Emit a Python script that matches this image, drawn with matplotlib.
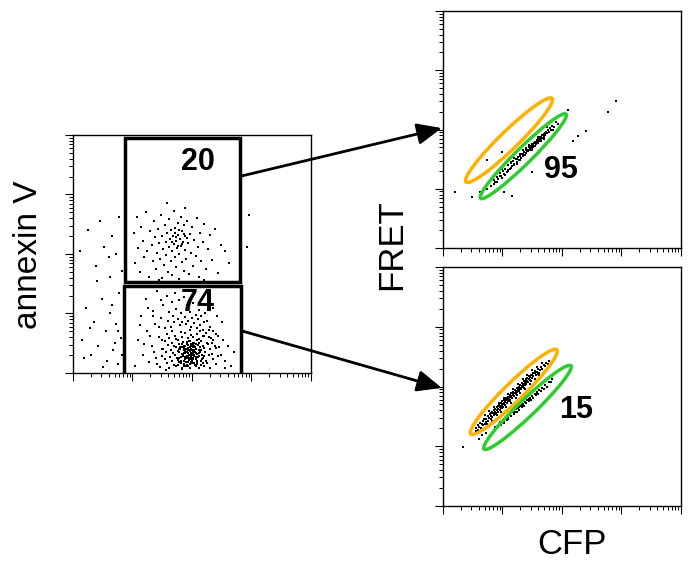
#import libraries
import matplotlib
matplotlib.use("Agg")
import matplotlib.pyplot as plt
from matplotlib.patches import Rectangle, Ellipse, ConnectionPatch
import numpy as np

plt.rcParams['font.family'] = ['Liberation Sans', 'DejaVu Sans']

#DATA (all positions in log10 decades)
#left plot: annexin V gating
upper_gate = (0.87, 1.53, 2.81, 3.95)   # x0, y0, x1, y1
lower_gate = (0.86, -0.30, 2.82, 1.47)
upper_pct = "20"
lower_pct = "74"

upper_cells = [(1.02,2.35),(1.05,1.85),(1.08,2.62),(1.10,2.10),(1.13,1.70),(1.15,2.45),(1.18,2.22),(1.20,1.95),(1.22,2.70),(1.25,2.05),
    (1.27,1.62),(1.30,2.38),(1.32,2.15),(1.34,1.88),(1.36,2.55),(1.38,2.28),(1.40,1.75),(1.41,2.02),(1.43,2.42),(1.45,2.18),
    (1.46,1.92),(1.48,2.65),(1.49,1.60),(1.50,2.30),(1.52,2.08),(1.53,1.82),(1.55,2.48),(1.56,2.20),(1.57,1.98),(1.58,2.36),
    (1.60,1.70),(1.61,2.12),(1.62,2.58),(1.63,2.25),(1.64,1.88),(1.65,2.40),(1.66,2.05),(1.67,1.65),(1.68,2.30),(1.69,2.16),
    (1.70,2.72),(1.71,1.95),(1.72,2.44),(1.73,2.22),(1.74,1.78),(1.75,2.10),(1.76,2.52),(1.77,2.32),(1.78,2.00),(1.79,1.58),
    (1.80,2.26),(1.81,2.62),(1.82,2.14),(1.83,1.86),(1.84,2.38),(1.85,2.20),(1.86,1.72),(1.87,2.48),(1.88,2.06),(1.89,2.30),
    (1.90,1.92),(1.92,2.56),(1.93,2.18),(1.95,1.66),(1.96,2.34),(1.98,2.02),(2.00,2.45),(2.02,1.80),(2.04,2.24),(2.06,1.96),
    (2.08,2.60),(2.10,2.12),(2.12,1.62),(2.14,2.36),(2.16,1.88),(2.18,2.20),(2.21,2.50),(2.24,1.74),(2.27,2.08),(2.30,2.32),
    (2.34,1.90),(2.38,2.42),(2.43,1.68),(2.48,2.15),(2.55,2.05),(2.62,1.85),(1.58,2.85),(1.88,2.78),(1.45,1.56),(2.20,1.57),
    (1.74,2.28),(1.79,2.41),(1.84,2.17),(1.71,2.35),(1.92,2.27),(1.66,2.21),(1.87,2.33),(1.77,2.13),
    (2.96,2.66),(2.92,2.12)]

outside_cells = [(0.12,2.05),(0.25,2.40),(0.38,1.80),(0.45,2.55),(0.52,2.12),(0.60,1.95),(0.66,2.30),(0.72,2.00),(0.78,2.62),(0.82,1.72),
    (0.15,0.55),(0.22,1.10),(0.30,0.30),(0.35,0.85),(0.42,0.45),(0.48,1.25),(0.55,0.70),(0.58,0.20),(0.63,1.00),(0.68,0.38),
    (0.72,0.82),(0.75,0.15),(0.78,1.35),(0.80,0.58),(0.83,0.30),(0.40,1.55),(0.28,0.75),(0.62,1.62),(0.70,0.50),(0.85,0.95),
    (0.50,0.10),(0.18,0.25),(0.66,1.15),(0.76,0.70)]

lower_cells = [(1.62,0.09),(1.74,0.12),(1.83,0.07),(1.90,0.11),(1.97,0.08),(2.05,0.13),(2.12,0.09),(2.20,0.12),(2.31,0.08),
    (1.58,0.17),(1.69,0.14),(1.79,0.19),(1.86,0.15),(1.93,0.18),(2.00,0.16),(2.08,0.19),(2.16,0.14),(2.26,0.17),(2.40,0.15),
    (1.55,0.23),(1.66,0.21),(1.75,0.25),(1.82,0.20),(1.88,0.24),(1.95,0.22),(2.02,0.26),(2.09,0.21),(2.17,0.24),(2.24,0.20),(2.35,0.23),
    (1.50,0.29),(1.63,0.27),(1.71,0.30),(1.78,0.26),(1.85,0.31),(1.91,0.28),(1.98,0.27),(2.04,0.30),(2.11,0.29),(2.19,0.26),(2.28,0.31),(2.44,0.28),
    (1.57,0.35),(1.68,0.33),(1.76,0.37),(1.83,0.32),(1.89,0.36),(1.94,0.34),(2.00,0.38),(2.06,0.33),(2.14,0.36),(2.22,0.35),(2.33,0.32),
    (1.52,0.41),(1.64,0.39),(1.73,0.43),(1.80,0.40),(1.87,0.42),(1.93,0.38),(1.99,0.41),(2.05,0.44),(2.12,0.39),(2.20,0.42),(2.30,0.40),(2.46,0.43),
    (1.60,0.47),(1.70,0.45),(1.79,0.49),(1.86,0.46),(1.92,0.48),(1.98,0.45),(2.03,0.50),(2.10,0.47),(2.18,0.45),(2.27,0.49),(2.38,0.46),
    (1.55,0.53),(1.67,0.51),(1.77,0.55),(1.85,0.52),(1.95,0.54),(2.02,0.51),(2.08,0.56),(2.16,0.53),(2.25,0.51),(2.36,0.55),
    (1.62,0.59),(1.74,0.57),(1.84,0.61),(1.93,0.58),(2.01,0.60),(2.11,0.57),(2.21,0.62),(2.32,0.59),
    (1.58,0.65),(1.72,0.63),(1.88,0.67),(1.99,0.64),(2.09,0.66),(2.19,0.63),(2.41,0.65),
    (1.66,0.71),(1.81,0.69),(1.96,0.73),(2.14,0.70),(2.28,0.72),
    (1.87,0.21),(1.92,0.25),(1.96,0.30),(2.01,0.23),(2.05,0.35),(1.90,0.40),(1.97,0.44),(2.03,0.28),(1.94,0.47),(2.07,0.41),
    (1.89,0.33),(1.99,0.19),(2.02,0.36),(1.91,0.29),(1.96,0.39),(2.06,0.24),(1.86,0.38),(2.00,0.31),(1.93,0.42),(1.98,0.34),
    (1.88,0.27),(2.04,0.46),(1.95,0.26),(2.08,0.32),(1.84,0.44),(1.97,0.15),(2.01,0.43),(1.92,0.35),(2.10,0.27),(1.85,0.29),
    (1.77,0.13),(1.81,0.27),(1.84,0.09),(1.89,0.45),(1.94,0.12),(1.96,0.53),(2.03,0.17),(2.07,0.48),(2.11,0.33),(2.15,0.21),
    (1.79,0.35),(1.83,0.48),(1.87,0.11),(1.91,0.52),(1.95,0.31),(1.99,0.24),(2.01,0.47),(2.06,0.11),(2.13,0.44),(2.17,0.30),
    (1.76,0.22),(1.80,0.44),(1.86,0.33),(1.90,0.18),(1.93,0.29),(1.97,0.37),(2.00,0.20),(2.04,0.39),(2.09,0.15),(2.15,0.38),
    (1.82,0.16),(1.88,0.39),(1.92,0.14),(1.98,0.49),(2.02,0.33),(2.07,0.27),(2.12,0.51),(1.78,0.41),(2.18,0.17),(2.21,0.28),
    (1.05,0.12),(1.10,0.55),(1.15,0.95),(1.18,0.30),(1.22,1.25),(1.25,0.70),(1.28,0.18),(1.32,0.45),(1.35,1.05),(1.38,0.82),
    (1.40,0.25),(1.42,1.38),(1.44,0.60),(1.46,0.10),(1.48,0.92),(1.50,0.40),(1.52,1.15),(1.54,0.75),(1.56,0.05),(1.58,1.30),
    (1.60,0.88),(1.62,1.02),(1.64,0.78),(1.66,1.20),(1.68,0.95),(1.70,0.85),(1.72,1.35),(1.74,1.08),(1.76,0.90),(1.78,1.22),
    (1.80,0.80),(1.82,1.00),(1.84,0.86),(1.86,1.28),(1.88,0.94),(1.90,0.82),(1.92,1.12),(1.94,0.88),(1.96,1.02),(1.98,0.78),
    (2.00,0.92),(2.02,1.18),(2.04,0.84),(2.06,0.98),(2.08,0.76),(2.10,0.90),(2.12,1.06),(2.14,0.80),(2.16,0.95),(2.18,0.72),
    (2.20,0.85),(2.22,1.00),(2.24,0.68),(2.26,0.88),(2.28,0.60),(2.30,0.78),(2.33,0.50),(2.36,0.70),(2.40,0.42),(2.44,0.62),
    (2.48,0.30),(2.52,0.55),(2.56,0.20),(2.60,0.45),(2.65,0.12),(2.70,0.35),(2.50,0.85),(2.42,0.95),(2.55,0.08),(2.35,1.10),
    (1.30,0.62),(1.36,0.35),(1.42,0.15),(1.45,0.78),(1.50,0.55),(1.20,0.48),(1.12,0.80),(1.34,0.95),(1.26,1.10),(1.48,1.22)]

#right plots: FRET vs CFP (annexin V high = top, annexin V low = bottom)
top_pct = "95"
bottom_pct = "15"
# ellipse gates: center x, center y, length, width, angle
top_orange = (1.11, 1.82, 2.02, 0.31, 44.3)
top_green = (1.35, 1.55, 2.02, 0.27, 44.7)
bot_orange = (1.19, 1.91, 2.02, 0.31, 44.3)
bot_green = (1.42, 1.65, 2.02, 0.28, 43.7)

top_cells = [(0.62,0.95),(0.66,0.92),(0.70,1.02),(0.74,0.99),(0.78,1.10),(0.81,1.04),(0.85,1.15),(0.88,1.11),(0.90,1.20),(0.93,1.16),
    (0.95,1.26),(0.98,1.21),(1.01,1.30),(1.03,1.25),(1.05,1.33),(1.07,1.29),(1.10,1.40),(1.12,1.34),(1.14,1.43),(1.16,1.38),
    (1.18,1.47),(1.20,1.42),(1.22,1.50),(1.24,1.46),(1.26,1.54),(1.27,1.49),(1.29,1.55),(1.31,1.52),(1.33,1.59),(1.34,1.55),
    (1.36,1.62),(1.37,1.57),(1.39,1.65),(1.40,1.61),(1.42,1.66),(1.43,1.63),(1.45,1.70),(1.46,1.65),(1.48,1.72),(1.49,1.69),
    (1.50,1.75),(1.51,1.71),(1.53,1.77),(1.54,1.73),(1.55,1.79),(1.56,1.76),(1.58,1.82),(1.59,1.78),(1.60,1.84),(1.61,1.80),
    (1.63,1.87),(1.64,1.83),(1.65,1.88),(1.66,1.85),(1.68,1.91),(1.69,1.87),(1.70,1.92),(1.72,1.90),(1.73,1.95),(1.75,1.94),
    (1.76,1.99),(1.78,1.96),(1.80,2.02),(1.82,1.99),(1.84,2.06),(1.87,2.05),(1.90,2.12),(1.93,2.09),
    (1.47,1.68),(1.52,1.74),(1.57,1.79),(1.62,1.85),(1.67,1.90),(1.41,1.64),(1.35,1.58),(1.44,1.66),(1.58,1.80),(1.63,1.84),
    (0.99,1.18),(1.09,1.31),(1.19,1.40),(1.25,1.51),(0.86,1.08),(1.15,1.45),(1.30,1.58),(1.71,1.94),
    (0.80,1.16),(0.90,1.12),(1.00,1.34),(1.10,1.30),(1.20,1.52),(1.30,1.48),(1.40,1.69),(1.50,1.66),(1.60,1.87),(1.70,1.84),
    (0.95,1.22),(1.15,1.35),(1.35,1.66),(1.55,1.72),(1.75,2.04),(1.25,1.42),(1.45,1.74),(1.65,1.80),(1.05,1.24),(1.85,2.00),
    (0.20,0.95),(0.74,1.49),(1.00,1.62),(2.77,2.29),(2.90,2.48),(2.40,1.98),(2.27,1.89),(2.18,1.81),(2.10,2.33),
    (1.50,1.28),(1.16,0.88),(0.49,0.86),(1.03,0.95)]

bottom_cells = [(0.55,1.25),(0.56,1.31),(0.58,1.36),(0.59,1.28),(0.61,1.33),(0.62,1.39),(0.64,1.30),(0.65,1.37),
    (0.67,1.42),(0.68,1.35),(0.69,1.45),(0.71,1.38),(0.72,1.46),(0.73,1.41),(0.75,1.50),(0.76,1.43),(0.77,1.47),
    (0.79,1.54),(0.80,1.46),(0.81,1.51),(0.82,1.57),(0.83,1.49),(0.84,1.55),(0.85,1.60),(0.86,1.52),
    (0.87,1.58),(0.88,1.63),(0.89,1.55),(0.90,1.60),(0.91,1.66),(0.92,1.58),(0.93,1.63),(0.94,1.69),
    (0.95,1.61),(0.96,1.66),(0.97,1.72),(0.98,1.64),(0.99,1.69),(1.00,1.75),(1.01,1.66),(1.02,1.71),
    (1.03,1.77),(1.04,1.69),(1.05,1.74),(1.06,1.80),(1.07,1.72),(1.08,1.77),(1.09,1.83),(1.10,1.75),
    (1.11,1.80),(1.12,1.86),(1.13,1.78),(1.14,1.83),(1.15,1.89),(1.16,1.81),(1.17,1.86),(1.18,1.91),
    (1.19,1.84),(1.20,1.89),(1.21,1.94),(1.22,1.87),(1.23,1.92),(1.24,1.97),(1.25,1.90),(1.26,1.95),
    (1.27,2.00),(1.28,1.93),(1.29,1.98),(1.30,2.03),(1.31,1.96),(1.32,2.01),(1.33,2.06),(1.34,1.99),
    (1.35,2.04),(1.36,2.09),(1.37,2.02),(1.38,2.07),(1.39,2.12),(1.40,2.05),(1.41,2.10),(1.42,2.14),
    (1.43,2.08),(1.44,2.13),(1.45,2.17),(1.46,2.11),(1.47,2.16),(1.48,2.20),(1.49,2.14),(1.50,2.19),
    (1.51,2.23),(1.52,2.17),(1.54,2.22),(1.55,2.26),(1.56,2.20),(1.58,2.25),(1.60,2.29),(1.61,2.23),
    (1.63,2.28),(1.65,2.33),(1.67,2.30),(1.69,2.36),(1.71,2.34),(1.73,2.39),(1.76,2.38),(1.78,2.42),
    (1.00,1.70),(1.05,1.75),(1.10,1.79),(1.15,1.84),(1.20,1.89),(1.25,1.93),(1.30,1.98),(1.35,2.03),(1.40,2.07),(1.45,2.12),
    (1.02,1.73),(1.12,1.82),(1.22,1.91),(1.32,2.00),(1.42,2.09),(1.08,1.80),(1.18,1.87),(1.28,1.96),(1.38,2.05),(0.97,1.68),
    (0.70,1.53),(0.74,1.38),(0.78,1.59),(0.82,1.43),(0.86,1.66),(0.90,1.52),(0.94,1.72),(0.98,1.58),(1.02,1.81),(1.06,1.65),
    (1.10,1.88),(1.14,1.73),(1.18,1.96),(1.22,1.81),(1.26,2.04),(1.30,1.89),(1.34,2.12),(1.38,1.96),(1.42,2.20),(1.46,2.04),
    (1.50,2.27),(1.54,2.12),(1.58,2.33),(1.62,2.20),(1.66,2.40),(0.80,1.56),(0.92,1.67),(1.04,1.78),(1.16,1.89),(1.28,2.00),
    (1.40,2.11),(1.52,2.22),(0.88,1.54),(1.00,1.64),(1.12,1.76),(1.24,1.86),(1.36,1.97),(1.48,2.09),(1.60,2.21),(0.76,1.51),
    (0.34,0.99),(0.60,1.12),(0.66,1.18),(0.72,1.22),
    (0.88,1.33),(0.91,1.30),(0.94,1.38),(0.97,1.35),(1.00,1.43),(1.02,1.39),(1.05,1.47),(1.07,1.44),(1.10,1.49),(1.12,1.53),
    (1.14,1.50),(1.17,1.58),(1.19,1.54),(1.22,1.62),(1.24,1.58),(1.26,1.64),(1.28,1.61),(1.30,1.68),(1.32,1.65),(1.34,1.71),
    (1.36,1.68),(1.38,1.74),(1.40,1.72),(1.42,1.78),(1.44,1.75),(1.46,1.81),(1.48,1.78),(1.50,1.84),(1.52,1.81),(1.54,1.88),
    (1.56,1.85),(1.58,1.91),(1.60,1.88),(1.62,1.94),(1.64,1.92),(1.66,1.98),(1.69,1.96),(1.72,2.03),(1.75,2.00),(1.78,2.08),
    (1.81,2.07),(1.83,2.12),(0.96,1.40),(1.09,1.46),(1.21,1.57),(1.33,1.69),(1.45,1.79),(1.57,1.87),(1.27,1.66),(1.03,1.42)]

orange = "#FFB000"
green = "#2ECC2E"


#plotting functions
def setupLogAxes(ax):
    ax.set_xlim(0, 4)
    ax.set_ylim(0, 4)
    majors = np.arange(0, 5)
    minors = np.array([d + np.log10(m) for d in range(4) for m in range(2, 10)])
    for axis in (ax.xaxis, ax.yaxis):
        axis.set_ticks(majors)
        axis.set_ticks(minors, minor=True)
        axis.set_ticklabels([])
    ax.tick_params(which="major", direction="out", length=6, width=0.8)
    ax.tick_params(which="minor", direction="out", length=3, width=0.7)
    for s in ax.spines.values():
        s.set_linewidth(1.0)


def plotCells(ax, cells):
    pts = np.array(cells)
    ax.scatter(pts[:, 0], pts[:, 1], s=1.6, marker="s", c="black", linewidths=0)


def drawGate(ax, gate):
    x0, y0, x1, y1 = gate
    ax.add_patch(Rectangle((x0, y0), x1 - x0, y1 - y0, fill=False, lw=2.5, ec="black"))


def drawEllipse(ax, e, color):
    cx, cy, length, width, ang = e
    ax.add_patch(Ellipse((cx, cy), length, width, angle=ang, fill=False, lw=2.5, ec=color))


fig = plt.figure(figsize=(6.91, 5.72), dpi=100)
ax_left = fig.add_axes([0.1056, 0.3479, 0.3444, 0.4161])
ax_top = fig.add_axes([0.6411, 0.5664, 0.3444, 0.4143])
ax_bot = fig.add_axes([0.6411, 0.1154, 0.3444, 0.4178])

for ax in (ax_left, ax_top, ax_bot):
    setupLogAxes(ax)

#left panel
plotCells(ax_left, upper_cells)
plotCells(ax_left, outside_cells)
plotCells(ax_left, lower_cells)
drawGate(ax_left, upper_gate)
drawGate(ax_left, lower_gate)
ax_left.text(2.10, 3.55, upper_pct, fontsize=22, fontweight="bold", ha="center", va="center")
ax_left.text(2.10, 1.18, lower_pct, fontsize=22, fontweight="bold", ha="center", va="center")

#right panels
plotCells(ax_top, top_cells)
drawEllipse(ax_top, top_orange, orange)
drawEllipse(ax_top, top_green, green)
ax_top.text(1.98, 1.32, top_pct, fontsize=22, fontweight="bold", ha="center", va="center")

plotCells(ax_bot, bottom_cells)
drawEllipse(ax_bot, bot_orange, orange)
drawEllipse(ax_bot, bot_green, green)
ax_bot.text(2.24, 1.61, bottom_pct, fontsize=22, fontweight="bold", ha="center", va="center")

#arrows from gates to the panels
for ya, ax_to, yb in [(3.31, ax_top, 0.506), (0.71, ax_bot, 0.494)]:
    con = ConnectionPatch(xyA=(upper_gate[2] + 0.02, ya), coordsA=ax_left.transData,
                          xyB=(-0.005, yb), coordsB=ax_to.transAxes,
                          arrowstyle="-|>,head_length=0.6,head_width=0.26",
                          mutation_scale=25, lw=2.0, color="black")
    fig.add_artist(con)

#axis labels
fig.text(29 / 691, 1 - 255 / 572, "annexin V", rotation=90, fontsize=24, ha="center", va="center")
fig.text(392 / 691, 1 - 245 / 572, "FRET", rotation=90, fontsize=25, ha="center", va="center")
fig.text(572 / 691, 1 - 545 / 572, "CFP", fontsize=25, ha="center", va="center")

fig.savefig("out.png", dpi=100)
